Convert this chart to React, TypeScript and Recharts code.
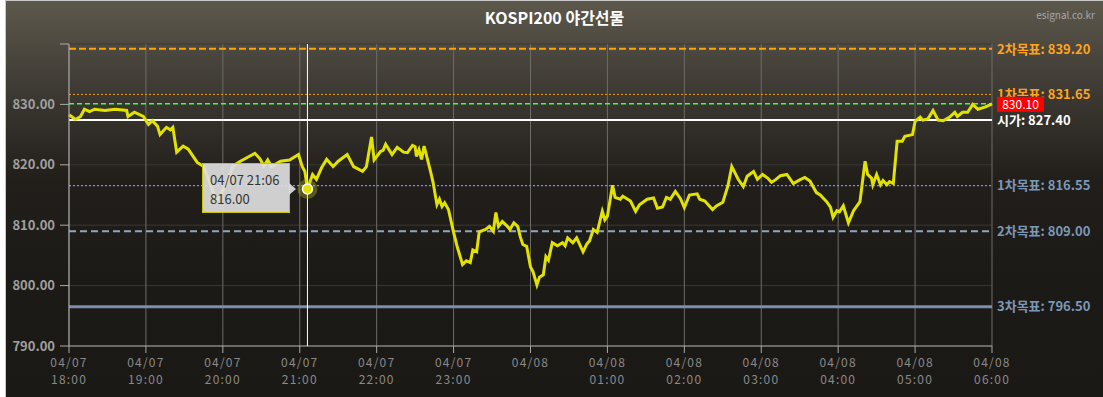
import React from "react";
import {
  LineChart,
  Line,
  XAxis,
  YAxis,
  CartesianGrid,
  Tooltip,
  ReferenceLine,
} from "recharts";

// minutes after 04/07 18:00
const times = [
  0, 2, 5, 9, 12, 16, 20, 28, 36, 45, 46, 51, 58, 62, 65, 69, 71, 76, 79, 81,
  84, 89, 93, 100, 105, 110, 115, 122, 128, 133, 139, 145, 149, 152, 155, 158,
  165, 172, 179, 182, 184, 186, 190, 193, 197, 201, 206, 210, 217, 222, 229,
  232, 236, 238, 243, 245, 247, 252, 256, 261, 264, 268, 270, 271, 273, 275,
  277, 282, 284, 287, 289, 291, 293, 296, 300, 303, 307, 310, 313, 315, 318,
  320, 325, 328, 331, 333, 335, 338, 342, 344, 347, 350, 352, 354, 357, 360,
  362, 365, 367, 370, 372, 374, 377, 381, 385, 387, 389, 393, 396, 401, 404,
  406, 409, 412, 416, 418, 420, 424, 426, 430, 432, 438, 442, 445, 451, 456,
  459, 463, 466, 469, 473, 477, 480, 484, 490, 492, 496, 502, 505, 510, 514,
  517, 522, 526, 529, 534, 537, 541, 545, 548, 551, 555, 560, 565, 570, 574,
  578, 583, 586, 591, 594, 596, 599, 601, 604, 608, 612, 617, 621, 623, 626,
  627, 630, 633, 635, 638, 640, 643, 646, 650, 652, 658, 660, 664, 666, 670,
  674, 678, 682, 687, 691, 693, 697, 701, 705, 709, 715, 720,
];

const prices = [
  828.3, 828.0, 827.5, 828.0, 829.2, 828.8, 829.2, 829.0, 829.2, 829.0, 828.0,
  828.7, 828.0, 826.7, 827.3, 826.4, 825.0, 826.2, 825.8, 826.2, 822.1, 823.1,
  822.6, 820.4, 819.7, 817.0, 814.0, 816.5, 819.8, 820.5, 821.2, 821.9, 821.0,
  819.8, 820.8, 819.7, 820.6, 820.8, 821.7, 819.7, 818.9, 816.0, 818.4, 817.6,
  819.5, 820.9, 819.7, 820.6, 821.7, 819.7, 818.9, 819.7, 824.6, 820.8, 822.2,
  822.4, 823.4, 821.7, 822.9, 822.1, 822.0, 823.2, 823.0, 821.4, 822.5, 820.9,
  823.1, 818.9, 817.1, 813.4, 814.3, 813.1, 813.7, 812.6, 808.8, 806.3, 803.5,
  804.1, 803.8, 805.9, 805.6, 808.9, 809.3, 809.8, 809.0, 812.1, 809.8, 810.6,
  809.8, 809.3, 810.4, 809.8, 808.1, 806.8, 806.5, 803.1, 802.3, 800.1, 801.4,
  801.8, 804.8, 804.2, 807.1, 806.6, 807.1, 806.6, 807.9, 807.1, 807.9, 805.6,
  806.9, 807.4, 809.3, 808.8, 812.3, 810.9, 811.5, 816.6, 814.6, 814.3, 814.8,
  814.0, 812.3, 813.4, 814.3, 814.5, 812.8, 813.0, 814.6, 814.3, 815.6, 814.4,
  812.9, 815.0, 815.2, 814.3, 814.0, 812.6, 813.2, 813.8, 816.5, 819.7, 817.6,
  816.4, 818.1, 818.9, 817.6, 818.4, 817.8, 817.1, 817.5, 818.2, 818.4, 816.9,
  817.5, 817.9, 817.3, 815.4, 815.0, 813.9, 813.0, 811.3, 812.4, 812.2, 813.2,
  810.4, 812.4, 813.9, 820.6, 818.4, 817.8, 816.7, 818.4, 816.7, 817.4, 816.7,
  817.2, 816.9, 823.9, 823.9, 824.7, 825.0, 827.2, 827.9, 827.4, 827.6, 829.0,
  827.4, 827.3, 827.9, 828.7, 828.0, 828.7, 828.7, 830.0, 829.2, 829.6, 830.1,
];

const hourTicks = [0, 60, 120, 180, 240, 300, 360, 420, 480, 540, 600, 660, 720];
const tickDates = ["04/07", "04/07", "04/07", "04/07", "04/07", "04/07", "04/08", "04/08", "04/08", "04/08", "04/08", "04/08", "04/08"];
const tickHours = ["18:00", "19:00", "20:00", "21:00", "22:00", "23:00", "", "01:00", "02:00", "03:00", "04:00", "05:00", "06:00"];
const yTicks = [790, 800, 810, 820, 830, 840];

const target2Up = 839.2;
const target1Up = 831.65;
const lastPrice = 830.1;
const openPrice = 827.4;
const target1Down = 816.55;
const target2Down = 809.0;
const target3Down = 796.5;

const tipTime = 186;

const data = times.map((t, i) => ({ t, price: prices[i] }));
const tipIndex = times.indexOf(tipTime);

const FONT = "'Noto Sans CJK KR', 'Noto Sans', sans-serif";

const sideLabel = (text: string, color: string) => (props: any) => {
  const vb = props.viewBox || {};
  return (
    <text
      x={vb.x + vb.width + 5}
      y={vb.y}
      dy="0.36em"
      fill={color}
      fontSize={13}
      fontWeight="bold"
      fontFamily={FONT}
    >
      {text}
    </text>
  );
};

const priceBox = (props: any) => {
  const vb = props.viewBox || {};
  const x = vb.x + vb.width + 5;
  return (
    <g>
      <rect x={x} y={vb.y - 7} width={47} height={15} fill="#ff0000" />
      <text x={x + 23.5} y={vb.y + 0.5} dy="0.36em" textAnchor="middle" fill="#fff" fontSize={12} fontFamily={FONT}>
        {lastPrice.toFixed(2)}
      </text>
    </g>
  );
};

const XTick = (props: any) => {
  const { x, y, payload } = props;
  const i = hourTicks.indexOf(payload.value);
  return (
    <g transform={`translate(${x},${y})`}>
      <text x={0} y={12} textAnchor="middle" fill="#8a8a8a" fontSize={12} letterSpacing={1.2} fontFamily={FONT}>
        {tickDates[i]}
      </text>
      <text x={0} y={29} textAnchor="middle" fill="#8a8a8a" fontSize={12} letterSpacing={1.2} fontFamily={FONT}>
        {tickHours[i]}
      </text>
    </g>
  );
};

const TipBox = (props: any) => {
  const { payload } = props;
  if (!payload || !payload.length) return null;
  const p = payload[0].payload;
  const hh = Math.floor((18 * 60 + p.t) / 60) % 24;
  const mm = (18 * 60 + p.t) % 60;
  const day = 18 * 60 + p.t >= 24 * 60 ? "04/08" : "04/07";
  return (
    <div
      style={{
        position: "relative",
        width: 88,
        height: 50,
        background: "rgba(222,222,222,0.92)",
        border: "1px solid #c9c400",
        boxSizing: "border-box",
        padding: "6px 0 0 7px",
        fontFamily: FONT,
        fontSize: 13,
        color: "#333",
        lineHeight: "19px",
      }}
    >
      <div>{`${day} ${String(hh).padStart(2, "0")}:${String(mm).padStart(2, "0")}`}</div>
      <div>{p.price.toFixed(2)}</div>
      <div
        style={{
          position: "absolute",
          right: -7,
          top: 19,
          width: 0,
          height: 0,
          borderTop: "6px solid transparent",
          borderBottom: "6px solid transparent",
          borderLeft: "7px solid rgba(222,222,222,0.92)",
        }}
      />
    </div>
  );
};

const ActiveDot = (props: any) => {
  const { cx, cy } = props;
  return (
    <g>
      <circle cx={cx} cy={cy} r={10} fill="rgba(190,190,20,0.35)" />
      <circle cx={cx} cy={cy} r={5} fill="#e3e300" stroke="#fff" strokeWidth={1.5} />
    </g>
  );
};

export default function App() {
  return (
    <div
      style={{
        position: "absolute",
        left: 5,
        top: 0,
        width: 1098,
        height: 397,
        borderLeft: "1px solid #c8c8c8",
        borderTop: "1px solid #c8c8c8",
        boxSizing: "border-box",
        background: "linear-gradient(#5c584c 0%, #3a3731 25%, #221f1b 45%, #1c1a16 70%, #1b1915 100%)",
        fontFamily: FONT,
      }}
    >
      <div
        style={{
          position: "absolute",
          left: 0,
          top: 4,
          width: "100%",
          textAlign: "center",
          color: "#fff",
          fontWeight: "bold",
          fontSize: 16,
        }}
      >
        KOSPI200 야간선물
      </div>
      <div
        style={{
          position: "absolute",
          right: 8,
          top: 6,
          color: "#a8a8a8",
          fontSize: 10,
        }}
      >
        esignal.co.kr
      </div>
      <LineChart
        width={1097}
        height={396}
        data={data}
        margin={{ top: 43, right: 111, bottom: 11, left: 0 }}
      >
        <CartesianGrid vertical={false} stroke="#3a3834" />
        <CartesianGrid horizontal={false} stroke="#6e6c68" />
        <XAxis
          dataKey="t"
          type="number"
          domain={[0, 720]}
          ticks={hourTicks}
          interval={0}
          height={40}
          tick={<XTick />}
          tickSize={7}
          stroke="#aaa"
        />
        <YAxis
          type="number"
          domain={[790, 840]}
          ticks={yTicks}
          interval={0}
          width={63}
          tickSize={9}
          tickMargin={5}
          stroke="#aaa"
          tick={{ fill: "#a0a0a0", fontSize: 13, fontWeight: "bold", fontFamily: FONT }}
          tickFormatter={(v: number) => (v === 840 ? "" : v.toFixed(2))}
        />
        <ReferenceLine y={target3Down} stroke="#7890ad" strokeWidth={3} label={sideLabel(`3차목표: ${target3Down.toFixed(2)}`, "#7b98b8")} />
        <ReferenceLine y={target2Down} stroke="#8ea6c2" strokeWidth={2} strokeDasharray="7 4" label={sideLabel(`2차목표: ${target2Down.toFixed(2)}`, "#7b98b8")} />
        <ReferenceLine y={target1Down} stroke="#7a8cff" strokeWidth={1.3} strokeDasharray="2 2" label={sideLabel(`1차목표: ${target1Down.toFixed(2)}`, "#7b98b8")} />
        <ReferenceLine y={openPrice} stroke="#ffffff" strokeWidth={2} label={sideLabel(`시가: ${openPrice.toFixed(2)}`, "#ffffff")} />
        <ReferenceLine y={target1Up} stroke="#f0a020" strokeWidth={1} strokeDasharray="2 2" label={sideLabel(`1차목표: ${target1Up.toFixed(2)}`, "#ffa41b")} />
        <ReferenceLine y={target2Up} stroke="#ffa500" strokeWidth={2} strokeDasharray="7 3" label={sideLabel(`2차목표: ${target2Up.toFixed(2)}`, "#ffa41b")} />
        <ReferenceLine y={lastPrice} stroke="#44ff44" strokeWidth={1.5} strokeDasharray="5 3" label={priceBox} />
        <Line
          type="linear"
          dataKey="price"
          stroke="#e2e200"
          strokeWidth={3}
          dot={false}
          activeDot={<ActiveDot />}
          isAnimationActive={false}
        />
        <Tooltip
          active={true}
          defaultIndex={tipIndex}
          content={<TipBox />}
          cursor={{ stroke: "#ffffff", strokeWidth: 1 }}
          position={{ x: 196, y: 162 }}
          isAnimationActive={false}
          wrapperStyle={{ outline: "none" }}
        />
      </LineChart>
    </div>
  );
}
